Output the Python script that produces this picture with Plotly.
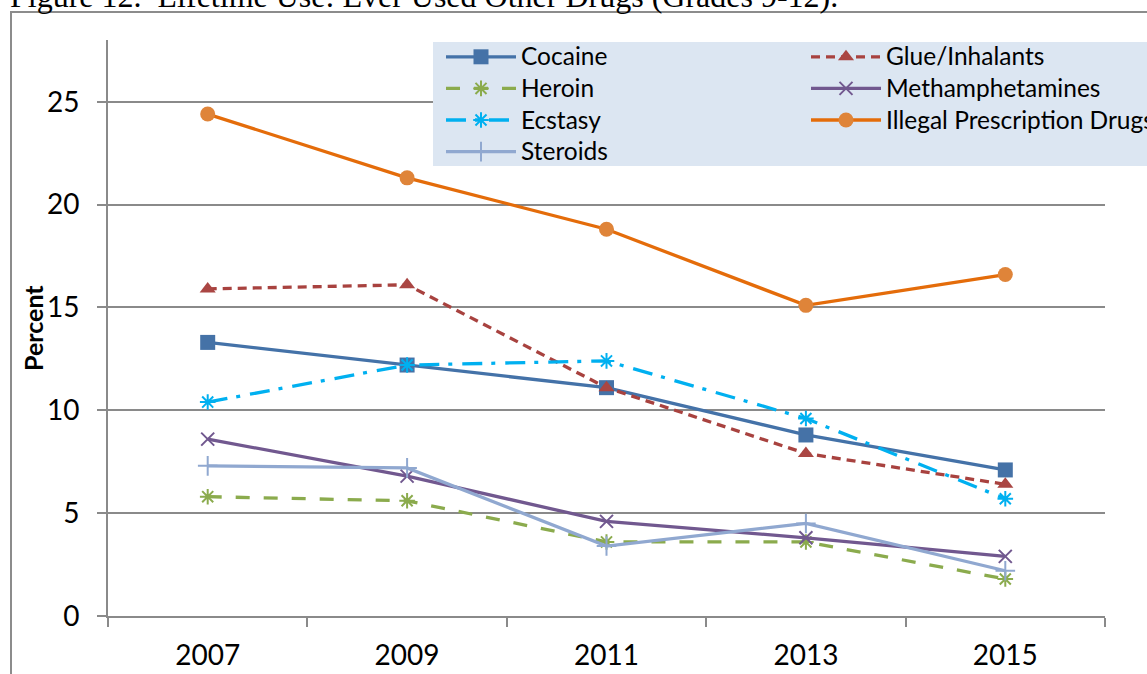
import plotly.graph_objects as go

# Survey years (category axis)
years = ["2007", "2009", "2011", "2013", "2015"]

# Lifetime use, percent of students (grades 9-12)
cocaine = [13.3, 12.2, 11.1, 8.8, 7.1]
glue_inhalants = [15.9, 16.1, 11.1, 7.9, 6.4]
heroin = [5.8, 5.6, 3.6, 3.6, 1.8]
methamphetamines = [8.6, 6.8, 4.6, 3.8, 2.9]
ecstasy = [10.4, 12.2, 12.4, 9.6, 5.7]
illegal_rx = [24.4, 21.3, 18.8, 15.1, 16.6]
steroids = [7.3, 7.2, 3.4, 4.5, 2.2]

y_ticks = [0, 5, 10, 15, 20, 25]

FONT = "Lato, 'Open Sans', sans-serif"
GRID = "#8a8a8a"

W, H = 1147, 674
L, R, T, B = 108, 42, 40, 58
PW, PH = W - L - R, H - T - B


def px_x(px):
    """Page pixel column -> paper x."""
    return (px - L) / PW


def px_y(py):
    """Page pixel row -> paper y."""
    return (H - B - py) / PH


def legend_label(text):
    # slightly larger label glyphs while keeping the compact row pitch
    return f'<span style="font-size:24.5px">{text}</span>'


# name, values, line colour, dash, marker symbol, marker size, marker colour, marker line
series = [
    ("Cocaine", cocaine, "#4472a8", "solid", "square", 15, "#4572a7", None),
    ("Glue/Inhalants", glue_inhalants, "#a8423f", "9px,6px", "triangle-up", 14, "#aa4643", None),
    ("Heroin", heroin, "#8bab4d", "14px,14px", "asterisk-open", 13, "#8bab4d", 2),
    ("Methamphetamines", methamphetamines, "#71588f", "solid", "x-thin-open", 13, "#71588f", 2),
    ("Ecstasy", ecstasy, "#00b0f0", "20px,9px,4px,10px", "asterisk-open", 13, "#00b0f0", 2),
    ("Illegal Prescription Drugs", illegal_rx, "#e46c0a", "solid", "circle", 15, "#df8439", None),
    ("Steroids", steroids, "#90a8d0", "solid", "cross-thin-open", 14, "#90a8d0", 2),
]

fig = go.Figure()
for name, vals, lcol, dash, sym, size, mcol, mlw in series:
    marker = dict(symbol=sym, size=size, color=mcol)
    if mlw:
        marker["line"] = dict(color=mcol, width=mlw)
    else:
        marker["line"] = dict(width=0)
    fig.add_trace(go.Scatter(
        x=years, y=vals, name=legend_label(name), mode="lines+markers",
        line=dict(color=lcol, width=3.3, dash=dash),
        marker=marker,
    ))

fig.update_layout(
    width=W, height=H,
    margin=dict(l=L, r=R, t=T, b=B, autoexpand=False),
    paper_bgcolor="white", plot_bgcolor="white",
    font=dict(family=FONT, color="black"),
    showlegend=True,
    legend=dict(
        orientation="h",
        x=px_x(441), y=px_y(36), xanchor="left", yanchor="top",
        bgcolor="rgba(0,0,0,0)", borderwidth=0,
        itemwidth=70, entrywidth=280, entrywidthmode="pixels",
        font=dict(family=FONT, size=22, color="black"),
        traceorder="normal",
    ),
    xaxis=dict(
        type="category", range=[-0.5, 4.5],
        showgrid=False, zeroline=False,
        showline=True, linecolor=GRID, linewidth=2,
        ticks="outside", tickson="boundaries", ticklen=9, tickwidth=2, tickcolor=GRID,
        tickfont=dict(family=FONT, size=28, color="black"),
        ticklabelstandoff=13,
    ),
    yaxis=dict(
        range=[0, 28], tickvals=y_ticks,
        showgrid=True, gridcolor=GRID, gridwidth=2, zeroline=False,
        showline=True, linecolor=GRID, linewidth=2,
        ticks="outside", ticklen=9, tickwidth=2, tickcolor=GRID,
        tickfont=dict(family=FONT, size=28, color="black"),
        ticklabelstandoff=12,
    ),
    shapes=[
        # outer chart frame
        dict(type="rect", xref="paper", yref="paper", layer="below",
             x0=px_x(11), x1=px_x(1200), y0=px_y(720), y1=px_y(12),
             line=dict(color="#8c8c8c", width=2), fillcolor="rgba(0,0,0,0)"),
        # legend panel
        dict(type="rect", xref="paper", yref="paper", layer="above",
             x0=px_x(433), x1=px_x(1200), y0=px_y(166), y1=px_y(42),
             line=dict(width=0), fillcolor="#dce6f2"),
    ],
    annotations=[
        dict(text="Figure 12.  Lifetime Use: Ever Used Other Drugs (Grades 9-12).",
             xref="paper", yref="paper", x=px_x(8), y=px_y(16),
             xanchor="left", yanchor="bottom", showarrow=False,
             font=dict(family="'Liberation Serif', 'Times New Roman', serif", size=32, color="black")),
        dict(text="<b>Percent</b>", textangle=-90,
             xref="paper", yref="paper", x=px_x(33), y=px_y(328),
             xanchor="center", yanchor="middle", showarrow=False,
             font=dict(family=FONT, size=25, color="black")),
    ],
)

fig.write_html("out.html")
